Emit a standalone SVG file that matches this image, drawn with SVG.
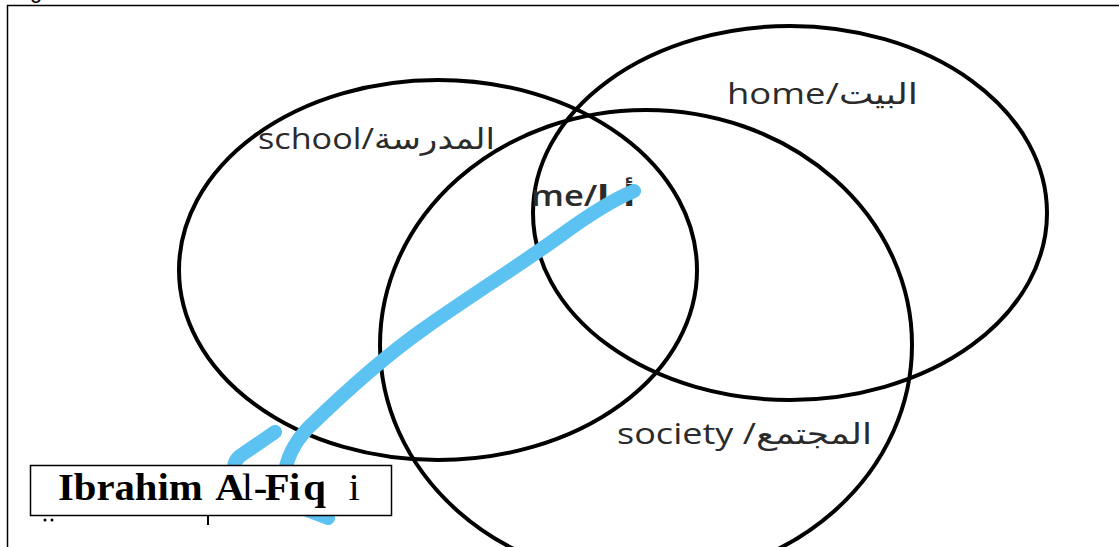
<svg xmlns="http://www.w3.org/2000/svg" width="1119" height="547" viewBox="0 0 1119 547">
<style>
.ring{fill:none;stroke:#000;stroke-width:4}
.lbl{font-family:"Open Sans","DejaVu Sans",sans-serif;font-size:29px;fill:#2b2b2b}
.blue{fill:none;stroke:#5bc2f2;stroke-width:14;stroke-linecap:round;stroke-linejoin:round}
.cr{font-family:"Liberation Serif",serif;font-size:37px;font-weight:bold;fill:#000}
</style>
<rect width="1119" height="547" fill="#fff"/>
<text x="30" y="-2" font-family="Liberation Sans, sans-serif" font-size="22" fill="#000">g</text>
<path d="M7.5 547 V5.5 H1119" fill="none" stroke="#000" stroke-width="1.5"/>
<g id="school"><ellipse class="ring" cx="438" cy="270" rx="259" ry="190"/><text class="lbl" x="258" y="149" textLength="237" lengthAdjust="spacingAndGlyphs">school/المدرسة</text></g>
<g id="home"><ellipse class="ring" cx="790" cy="213" rx="257" ry="187"/><text class="lbl" x="727" y="104" textLength="191" lengthAdjust="spacingAndGlyphs">home/البيت</text></g>
<g id="society"><ellipse class="ring" cx="646" cy="345" rx="266" ry="235"/><text class="lbl" x="617" y="444" textLength="255" lengthAdjust="spacingAndGlyphs">society /المجتمع</text></g>
<g id="me"><text class="lbl" x="531" y="206" font-weight="600" textLength="104" lengthAdjust="spacingAndGlyphs">me/أنا</text></g>
<g id="connectors">
<path class="blue" d="M634 191 C612 200 590 214 560 236 C520 265 470 296 425 328 C385 356 345 392 308 428 C292 445 287 460 284 475"/>
<path class="blue" d="M275 432 L240 456 C228 466 235 480 255 490 L328 518"/>
</g>
<g id="credit">
<rect x="30.5" y="465.5" width="361" height="50" fill="#fff" stroke="#000" stroke-width="1.5"/>
<text class="cr" transform="translate(58 500) scale(1.1 1)"><tspan x="0">Ibrahim</tspan><tspan x="143">A</tspan><tspan x="167" font-weight="normal">l</tspan><tspan x="178">-</tspan><tspan x="188 210 223">Fiq</tspan><tspan x="264" font-weight="normal">i</tspan></text>
</g>
<g fill="#000"><circle cx="45" cy="520" r="1.5"/><circle cx="52" cy="520" r="1.5"/><rect x="207" y="515" width="2" height="10"/></g>
</svg>
